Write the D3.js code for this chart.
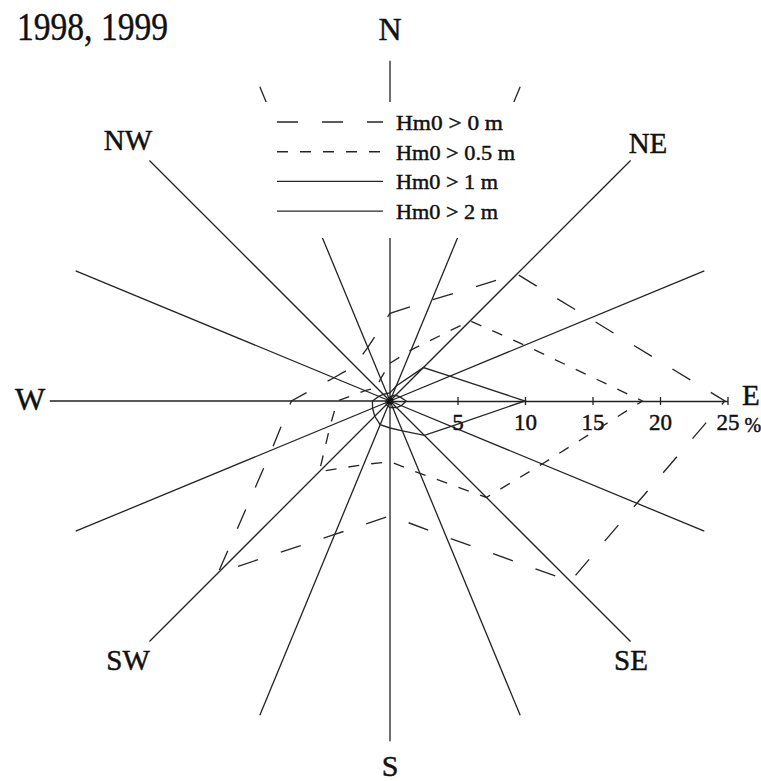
<!DOCTYPE html>
<html>
<head>
<meta charset="utf-8">
<script src="https://cdn.jsdelivr.net/npm/d3@7"></script>
<style>
  html, body { margin: 0; padding: 0; background: #fff; }
  svg { display: block; }
  text { font-family: "Liberation Serif", "Times New Roman", serif; fill: #111; stroke: #111; stroke-width: 0.45px; }
</style>
</head>
<body>
<svg id="rose" width="761" height="781"></svg>
<script>
// Sixteen compass sectors, clockwise from north
const directions = ["N","NNE","NE","ENE","E","ESE","SE","SSE","S","SSW","SW","WSW","W","WNW","NW","NNW"];

// Occurrence (%) of waves per sector for each significant wave height threshold
const hm0Above0   = [6.5, 8.1, 13.3, 16.0, 24.8, 19.8, 18.9, 10.9, 8.5, 10.7, 18.0, 9.5, 7.3, 4.5, 3.7, 4.3];
const hm0Above05  = [2.8, 4.1, 8.4, 10.8, 18.7, 12.2, 10.1, 5.8, 4.5, 5.1, 7.4, 4.8, 3.9, 2.0, 1.4, 1.8];
const hm0Above1   = [0.6, 1.2, 3.5, 4.8, 10.0, 4.9, 3.6, 2.4, 2.0, 1.9, 1.6, 1.4, 1.3, 0.9, 0.7, 0.6];
const hm0Above2   = [0.3, 0.4, 0.6, 0.8, 1.2, 0.9, 0.7, 0.5, 0.5, 0.4, 0.4, 0.3, 0.3, 0.2, 0.2, 0.2];

const seriesLabels = ["Hm0 > 0 m", "Hm0 > 0.5 m", "Hm0 > 1 m", "Hm0 > 2 m"];
const radialTicks = [5, 10, 15, 20, 25];
const compassLabels = ["N", "NE", "E", "SE", "S", "SW", "W", "NW"];
const title = "1998, 1999";

// ---- layout ----
const cx = 390, cy = 401;
const svg = d3.select("#rose");
const g = svg.append("g").attr("transform", `translate(${cx},${cy})`);

const r = d3.scaleLinear().domain([0, 25]).range([0, 337.5]);
const spokeReach = 25.2;
const angleOf = i => i * 2 * Math.PI / directions.length;

// spokes
g.append("g").selectAll("line")
  .data(directions.map((d, i) => i).filter(i => i !== 4))
  .join("line")
  .attr("x1", 0).attr("y1", 0)
  .attr("x2", i => r(spokeReach) * Math.sin(angleOf(i)))
  .attr("y2", i => -r(spokeReach) * Math.cos(angleOf(i)))
  .attr("stroke", "#222")
  .attr("stroke-width", 1.3);

// dark hub where the spokes meet
g.append("circle").attr("r", 3.5).attr("fill", "#111");

// east axis with percentage scale
const axis = d3.axisBottom(r).tickValues(radialTicks).tickSizeInner(4).tickSizeOuter(0).tickPadding(0);
const ax = g.append("g").call(axis);
ax.select(".domain").attr("stroke", "#222").attr("stroke-width", 1.3);
ax.selectAll(".tick line").attr("y1", -4).attr("y2", 4).attr("stroke", "#222").attr("stroke-width", 1.3);
ax.selectAll(".tick text")
  .attr("y", 29).attr("dy", 0)
  .attr("fill", "#111")
  .style("font-family", "'Liberation Serif', serif")
  .style("font-size", "23px");
ax.append("text")
  .attr("x", r(25) + 17).attr("y", 31)
  .attr("text-anchor", "start")
  .style("font-size", "20px")
  .text("%");

// wave height polygons
const series = [
  { values: hm0Above0,  dash: "21,24" },
  { values: hm0Above05, dash: "11,12" },
  { values: hm0Above1,  dash: null },
  { values: hm0Above2,  dash: null }
];
const radial = d3.lineRadial()
  .angle((d, i) => angleOf(i))
  .radius(d => r(d))
  .curve(d3.curveLinearClosed);

g.append("g").selectAll("path")
  .data(series)
  .join("path")
  .attr("d", s => radial(s.values))
  .attr("fill", "none")
  .attr("stroke", "#262626")
  .attr("stroke-width", 1.35)
  .attr("stroke-dasharray", s => s.dash);

// compass labels
const labelPos = {
  N:  [390, 40, 32, "middle"],
  NE: [648, 153, 29, "middle"],
  E:  [742, 405, 29, "start"],
  SE: [631, 670, 29, "middle"],
  S:  [390, 776, 30, "middle"],
  SW: [128, 670, 29, "middle"],
  W:  [30, 410, 32, "middle"],
  NW: [128, 150, 29, "middle"]
};
svg.append("g").selectAll("text")
  .data(compassLabels)
  .join("text")
  .attr("x", d => labelPos[d][0])
  .attr("y", d => labelPos[d][1])
  .attr("text-anchor", d => labelPos[d][3])
  .style("font-size", d => labelPos[d][2] + "px")
  .text(d => d);

// title
svg.append("text")
  .attr("x", 17).attr("y", 40)
  .style("font-size", "40px")
  .attr("textLength", 151)
  .attr("lengthAdjust", "spacingAndGlyphs")
  .text(title);

// legend, drawn over the northern spokes
const legend = svg.append("g");
legend.append("rect")
  .attr("x", 262).attr("y", 102).attr("width", 258).attr("height", 136)
  .attr("fill", "#fff");
const legendWidths = [107, 119, 102, 102];
const rows = legend.selectAll("g.row")
  .data(series)
  .join("g")
  .attr("class", "row")
  .attr("transform", (d, i) => `translate(0,${122 + i * 29.7})`);
rows.append("line")
  .attr("x1", 277).attr("x2", 383)
  .attr("y1", 0).attr("y2", 0)
  .attr("stroke", "#262626")
  .attr("stroke-width", 1.35)
  .attr("stroke-dasharray", d => d.dash);
rows.append("text")
  .attr("x", 396).attr("y", 8)
  .style("font-size", "21px")
  .attr("textLength", (d, i) => legendWidths[i])
  .attr("lengthAdjust", "spacingAndGlyphs")
  .text((d, i) => seriesLabels[i]);
</script>
</body>
</html>
